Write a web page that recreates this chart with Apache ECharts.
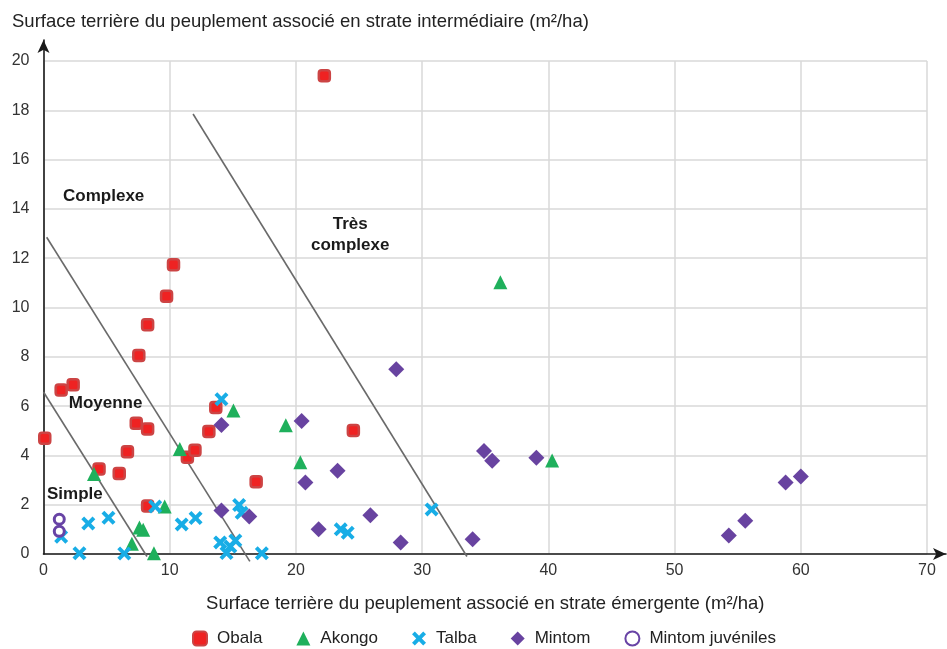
<!DOCTYPE html>
<html>
<head>
<meta charset="utf-8">
<script src="https://cdn.jsdelivr.net/npm/echarts@6/dist/echarts.min.js"></script>
<style>
html,body{margin:0;padding:0;background:#fff;}
#c{width:947px;height:649px;}
</style>
</head>
<body>
<div id="c"></div>
<script>
// ---- data ----
const obalaX = [0.1, 1.4, 2.35, 4.4, 6.0, 6.65, 7.35, 7.55, 8.25, 8.25, 8.25, 9.75, 10.3, 11.4, 12.0, 13.1, 13.65, 16.85, 22.25, 24.55];
const obalaY = [4.7, 6.65, 6.87, 3.45, 3.27, 4.15, 5.3, 8.05, 5.07, 9.3, 1.95, 10.46, 11.73, 3.92, 4.21, 4.97, 5.94, 2.93, 19.4, 5.01];

const akongoX = [4.0, 7.0, 7.6, 7.9, 8.75, 9.6, 10.8, 15.05, 19.2, 20.35, 36.2, 40.3];
const akongoY = [3.25, 0.42, 1.07, 0.98, 0.03, 1.93, 4.26, 5.82, 5.22, 3.72, 11.02, 3.79];

const talbaX = [1.4, 2.85, 3.55, 5.15, 6.4, 8.85, 10.95, 12.05, 14.1, 14.0, 14.5, 14.8, 15.2, 15.5, 15.7, 17.3, 23.55, 24.1, 30.75];
const talbaY = [0.7, 0.03, 1.24, 1.47, 0.02, 1.93, 1.2, 1.46, 6.28, 0.47, 0.04, 0.3, 0.55, 1.99, 1.67, 0.03, 1.0, 0.86, 1.81];

const mintomX = [14.1, 14.1, 16.3, 20.45, 20.75, 21.8, 23.3, 25.9, 27.95, 28.3, 34.0, 34.9, 35.55, 39.05, 54.3, 55.6, 58.8, 60.0];
const mintomY = [5.23, 1.76, 1.52, 5.4, 2.9, 1.0, 3.38, 1.57, 7.49, 0.47, 0.6, 4.18, 3.78, 3.9, 0.75, 1.35, 2.9, 3.14];

const juvX = [1.25, 1.25];
const juvY = [1.41, 0.92];

// class boundaries (start / end points)
const boundSimple = [[0.0, 6.57], [8.2, -0.1]];
const boundMoyenne = [[0.25, 12.85], [16.35, -0.3]];
const boundComplexe = [[11.85, 17.85], [33.55, -0.1]];

// zone labels: [x, y, text, align]
const zoneLabels = [
  [1.55, 14.52, 'Complexe', 'left'],
  [24.3, 12.95, 'Très\ncomplexe', 'center'],
  [2.0, 6.13, 'Moyenne', 'left'],
  [0.28, 2.43, 'Simple', 'left']
];

const xTicks = [0, 10, 20, 30, 40, 50, 60, 70];
const yTicks = [0, 2, 4, 6, 8, 10, 12, 14, 16, 18, 20];

const seriesNames = ['Obala', 'Akongo', 'Talba', 'Mintom', 'Mintom juvéniles'];
const yTitle = 'Surface terrière du peuplement associé en strate intermédiaire (m²/ha)';
const xTitle = 'Surface terrière du peuplement associé en strate émergente (m²/ha)';

// ---- build ----
const zip = (xs, ys) => xs.map((x, i) => [x, ys[i]]);
const FONT = '"Liberation Sans", Arial, Helvetica, sans-serif';
const crossPath = 'path://M2,0 L5,3 L8,0 L10,2 L7,5 L10,8 L8,10 L5,7 L2,10 L0,8 L3,5 L0,2 Z';

const chart = echarts.init(document.getElementById('c'), null, {renderer: 'canvas'});

function boundary(pts) {
  return {
    type: 'line', data: pts, symbol: 'none', silent: true, clip: false,
    lineStyle: {color: '#6a6a6a', width: 1.6}, z: 1, xAxisIndex: 0, yAxisIndex: 0
  };
}

const option = {
  animation: false,
  backgroundColor: '#fff',
  textStyle: {fontFamily: FONT},
  title: {
    text: yTitle, left: 7, top: 7,
    textStyle: {fontFamily: FONT, fontSize: 18.5, fontWeight: 'normal', color: '#222'}
  },
  legend: {
    data: seriesNames,
    left: 187, top: 625,
    itemWidth: 14, itemHeight: 14, itemGap: 34,
    textStyle: {fontFamily: FONT, fontSize: 17, color: '#222', padding: [0, 0, 0, 5]}
  },
  grid: [
    {left: 43.5, right: 20, top: 61, bottom: 95},
    {left: 43.5, right: 1, top: 40, bottom: 95}
  ],
  xAxis: [
    {
      type: 'value', gridIndex: 0, min: xTicks[0], max: xTicks[xTicks.length - 1], interval: 10,
      name: xTitle, nameLocation: 'middle', nameGap: 40,
      nameTextStyle: {fontFamily: FONT, fontSize: 18.5, color: '#222'},
      axisLine: {show: false}, axisTick: {show: false},
      axisLabel: {fontFamily: FONT, fontSize: 16, color: '#333', margin: 9},
      splitLine: {show: true, lineStyle: {color: '#d9d9d9', width: 1.5}}
    },
    {
      type: 'value', gridIndex: 1, min: 0, max: 1,
      axisLine: {show: true, symbol: ['none', 'arrow'], symbolSize: [9, 13], lineStyle: {color: '#1a1a1a', width: 1.6}},
      axisTick: {show: false}, axisLabel: {show: false}, splitLine: {show: false}
    }
  ],
  yAxis: [
    {
      type: 'value', gridIndex: 0, min: yTicks[0], max: yTicks[yTicks.length - 1], interval: 2,
      axisLine: {show: false}, axisTick: {show: false},
      axisLabel: {fontFamily: FONT, fontSize: 16, color: '#333', margin: 14},
      splitLine: {show: true, lineStyle: {color: '#d9d9d9', width: 1.5}}
    },
    {
      type: 'value', gridIndex: 1, min: 0, max: 1,
      axisLine: {show: true, symbol: ['none', 'arrow'], symbolSize: [9, 13], lineStyle: {color: '#1a1a1a', width: 1.6}},
      axisTick: {show: false}, axisLabel: {show: false}, splitLine: {show: false}
    }
  ],
  series: [
    boundary(boundSimple),
    boundary(boundMoyenne),
    boundary(boundComplexe),
    {
      type: 'scatter', silent: true, symbolSize: 0, z: 5,
      itemStyle: {opacity: 1},
      data: zoneLabels.map(d => ({
        value: [d[0], d[1]],
        label: {
          show: true, formatter: d[2],
          position: d[3] === 'center' ? 'inside' : 'right', distance: 0,
          align: d[3], verticalAlign: 'middle',
          fontFamily: FONT, fontSize: 17, fontWeight: 'bold', color: '#1a1a1a', lineHeight: 21
        }
      }))
    },
    {
      name: 'Obala', type: 'scatter', data: zip(obalaX, obalaY), z: 3,
      symbol: 'roundRect', symbolSize: 11,
      itemStyle: {color: '#ef2222', borderColor: '#cc4444', borderWidth: 2.5, opacity: 1}
    },
    {
      name: 'Akongo', type: 'scatter', data: zip(akongoX, akongoY), z: 3,
      symbol: 'triangle', symbolSize: 14,
      itemStyle: {color: '#1fb05c', opacity: 1}
    },
    {
      name: 'Talba', type: 'scatter', data: zip(talbaX, talbaY), z: 3,
      symbol: crossPath, symbolSize: 14,
      itemStyle: {color: '#18ade6', opacity: 1}
    },
    {
      name: 'Mintom', type: 'scatter', data: zip(mintomX, mintomY), z: 3,
      symbol: 'diamond', symbolSize: 16,
      itemStyle: {color: '#6843a0', opacity: 1}
    },
    {
      name: 'Mintom juvéniles', type: 'scatter', data: zip(juvX, juvY), z: 3,
      symbol: 'circle', symbolSize: 10,
      itemStyle: {color: '#ffffff', borderColor: '#6843a5', borderWidth: 3, opacity: 1}
    }
  ]
};
chart.setOption(option);
</script>
</body>
</html>
